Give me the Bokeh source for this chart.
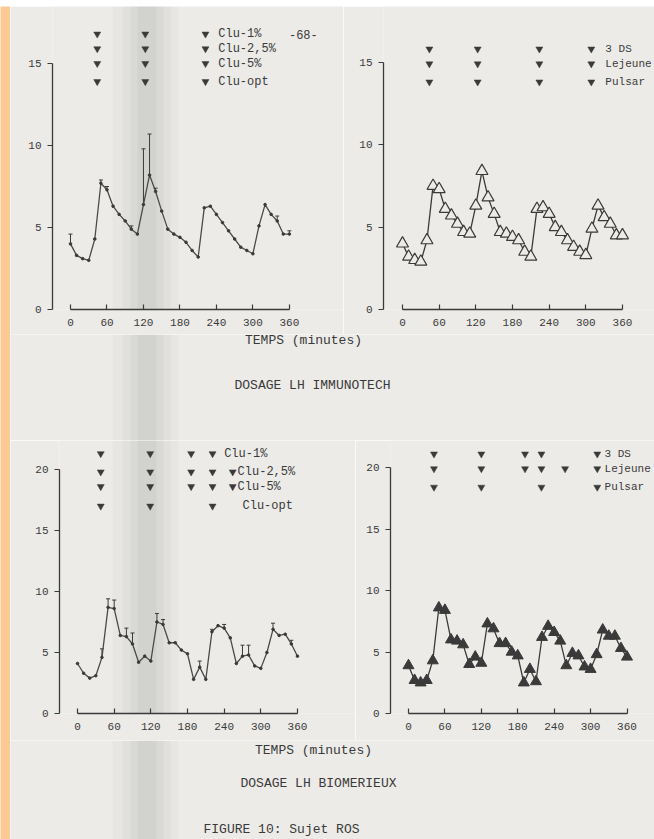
from bokeh.plotting import figure
from bokeh.layouts import column, row
from bokeh.models import Range1d, Label, Whisker, TeeHead, ColumnDataSource, FixedTicker, BoxAnnotation
from bokeh.embed import file_html
from bokeh.resources import INLINE

# ---------------- data ----------------
times = [0, 10, 20, 30, 40, 50, 60, 70, 80, 90, 100, 110, 120, 130, 140, 150, 160, 170, 180,
         190, 200, 210, 220, 230, 240, 250, 260, 270, 280, 290, 300, 310, 320, 330, 340, 350, 360]
x_ticks = [0, 60, 120, 180, 240, 300, 360]

# LH Immunotech (top panels)
immuno_clu = [4.0, 3.3, 3.1, 3.0, 4.3, 7.7, 7.3, 6.3, 5.8, 5.4, 4.9, 4.6, 6.4, 8.2, 7.2, 6.0, 4.9, 4.6, 4.4,
              4.1, 3.6, 3.2, 6.2, 6.3, 5.8, 5.3, 4.8, 4.3, 3.8, 3.6, 3.4, 5.1, 6.4, 5.8, 5.4, 4.6, 4.6]
immuno_err_t = [0, 50, 60, 100, 120, 130, 140, 340, 360]
immuno_err_hi = [4.6, 7.9, 7.5, 5.1, 9.8, 10.7, 7.4, 5.7, 4.8]
immuno_pul = [4.0, 3.2, 3.0, 2.9, 4.2, 7.5, 7.3, 6.1, 5.7, 5.2, 4.7, 4.6, 6.3, 8.4, 6.8, 5.8, 4.7, 4.6, 4.4,
              4.2, 3.5, 3.2, 6.1, 6.2, 5.8, 5.0, 4.7, 4.2, 3.8, 3.5, 3.3, 4.9, 6.3, 5.6, 5.2, 4.5, 4.5]

# LH Biomerieux (bottom panels)
biomer_clu = [4.1, 3.3, 2.9, 3.1, 4.6, 8.7, 8.6, 6.4, 6.3, 5.7, 4.2, 4.7, 4.3, 7.5, 7.3, 5.8, 5.8, 5.2, 4.9,
              2.8, 3.8, 2.8, 6.7, 7.2, 7.0, 6.2, 4.1, 4.7, 4.8, 3.9, 3.7, 5.0, 6.9, 6.4, 6.5, 5.7, 4.7]
biomer_err_t = [40, 50, 60, 80, 90, 130, 140, 200, 220, 240, 270, 280, 320, 350]
biomer_err_hi = [5.3, 9.4, 9.3, 7.0, 6.6, 8.2, 7.7, 4.3, 6.9, 7.3, 5.6, 5.6, 7.4, 6.0]
biomer_pul = [3.9, 2.7, 2.5, 2.7, 4.3, 8.6, 8.4, 6.0, 5.9, 5.6, 4.0, 4.6, 4.1, 7.3, 6.9, 5.7, 5.7, 5.0, 4.7,
              2.5, 3.6, 2.6, 6.2, 7.1, 6.6, 5.9, 3.9, 4.9, 4.7, 3.8, 3.6, 4.8, 6.8, 6.3, 6.3, 5.3, 4.6]

# pulse detections (minutes) per method
tl_methods = ["Clu-1%", "Clu-2,5%", "Clu-5%", "Clu-opt"]
tl_pulses = [[44, 123, 222], [44, 123, 222], [44, 123, 222], [44, 123, 222]]
tr_methods = ["3 DS", "Lejeune", "Pulsar"]
tr_pulses = [[44, 123, 224, 309], [44, 123, 224, 309], [44, 123, 224, 309]]
bl_methods = ["Clu-1%", "Clu-2,5%", "Clu-5%", "Clu-opt"]
bl_pulses = [[38, 119, 186, 221], [38, 119, 186, 221, 254], [38, 119, 186, 221, 254], [38, 119, 221]]
br_methods = ["3 DS", "Lejeune", "Pulsar"]
br_pulses = [[42, 120, 192, 219, 311], [42, 120, 192, 219, 258, 311], [42, 120, 219, 311]]

# ---------------- style ----------------
PAGE = "#ecebe8"
EDGE = "#fdca94"
INK = "#3a3a3a"
MONO = "Liberation Mono"


def fold_shadow(p, h, x_off):
    # soft darker band of the scanned page fold (screen pixels, relative to the frame)
    for (l, r, a) in [(112, 178, 0.02), (122, 170, 0.025), (130, 163, 0.03), (137, 156, 0.03)]:
        p.add_layout(BoxAnnotation(left=l - x_off, right=r - x_off, top=0, bottom=h,
                                   left_units="screen", right_units="screen",
                                   top_units="screen", bottom_units="screen",
                                   fill_color="black", fill_alpha=a, line_color=None,
                                   level="underlay"))


def panel(w, h, ml, mb, xs, xe, ye, ymax, ystep):
    p = figure(width=w, height=h, output_backend="svg", toolbar_location=None,
               x_range=Range1d(xs, xe), y_range=Range1d(0, ye),
               min_border_left=ml, min_border_bottom=mb, min_border_top=0, min_border_right=0,
               background_fill_color=PAGE, border_fill_color=PAGE, outline_line_color=None)
    p.grid.visible = False
    xa = p.xaxis[0]
    xa.bounds = (0, 360)
    xa.ticker = FixedTicker(ticks=x_ticks)
    xa.major_tick_in = 5
    xa.major_tick_out = 0
    xa.minor_tick_line_color = None
    ya = p.yaxis[0]
    ya.bounds = (0, ymax)
    ya.ticker = FixedTicker(ticks=list(range(0, ymax + 1, ystep)))
    ya.major_tick_in = 0
    ya.major_tick_out = 5
    ya.minor_tick_line_color = None
    for ax in (xa, ya):
        ax.axis_line_color = INK
        ax.axis_line_width = 1.3
        ax.major_tick_line_color = INK
        ax.major_tick_line_width = 1.2
        ax.major_label_text_font = MONO
        ax.major_label_text_font_size = "11px"
        ax.major_label_text_color = INK
    xa.major_label_standoff = 9
    ya.major_label_standoff = 6
    return p


def pulses(p, methods, pulse_lists, rows, label_x, size="12px", label_dx=None):
    for i, (m, pl) in enumerate(zip(methods, pulse_lists)):
        p.scatter(pl, [rows[i]] * len(pl), marker="inverted_triangle", size=7,
                  fill_color=INK, line_color=INK, line_width=0.5)
        lx = label_x if label_dx is None else label_x + label_dx[i]
        p.add_layout(Label(x=lx, y=rows[i], text=m, text_font=MONO, text_font_size=size,
                           text_color=INK, text_baseline="middle", text_align="left"))


def clu_series(p, vals, err_t, err_hi):
    p.line(times, vals, line_color="#4a4a4a", line_width=1.3)
    p.scatter(times, vals, marker="circle", size=2.6, fill_color=INK, line_color=INK)
    lo = [vals[times.index(t)] for t in err_t]
    src = ColumnDataSource(dict(base=err_t, lower=lo, upper=err_hi))
    p.add_layout(Whisker(source=src, base="base", lower="lower", upper="upper",
                         line_color=INK, line_width=1.0,
                         upper_head=TeeHead(size=4, line_color=INK, line_width=1.0),
                         lower_head=None))


def blank(w, h, color):
    p = figure(width=w, height=h, output_backend="svg", toolbar_location=None,
               x_range=Range1d(0, w), y_range=Range1d(h, 0), min_border=0,
               background_fill_color=color, border_fill_color=color, outline_line_color=None)
    p.axis.visible = False
    p.grid.visible = False
    return p


# ---------------- top-left: Immunotech, Clu ----------------
tl = panel(333, 328, 42, 25, -29.6, 449, 18.48, 15, 5)
fold_shadow(tl, 328, 52)
clu_series(tl, immuno_clu, immuno_err_t, immuno_err_hi)
pulses(tl, tl_methods, tl_pulses, [16.8, 15.9, 15.0, 13.9], 243)
tl.add_layout(Label(x=383, y=16.8, text="-68-", text_font=MONO, text_font_size="12px",
                    text_color=INK, text_baseline="middle", text_align="center"))

# ---------------- top-right: Immunotech, 3DS/Lejeune/Pulsar ----------------
tr = panel(311, 328, 40, 25, -31.1, 412.4, 18.38, 15, 5)
tr.line(times, immuno_pul, line_color=INK, line_width=1.3)
tr.scatter(times, immuno_pul, marker="triangle", size=12, fill_color=PAGE,
           line_color=INK, line_width=1.2)
pulses(tr, tr_methods, tr_pulses, [15.8, 14.9, 13.8], 332, size="11px")

# ---------------- bottom-left: Biomerieux, Clu ----------------
bl = panel(345, 300, 49, 27, -29.5, 455, 22.38, 20, 5)
fold_shadow(bl, 300, 59)
clu_series(bl, biomer_clu, biomer_err_t, biomer_err_hi)
pulses(bl, bl_methods, bl_pulses, [21.3, 19.8, 18.6, 17.0], 240, label_dx=[0, 22, 22, 30])

# ---------------- bottom-right: Biomerieux, 3DS/Lejeune/Pulsar ----------------
br = panel(299, 300, 35, 27, -29.65, 405.3, 22.2, 20, 5)
br.line(times, biomer_pul, line_color=INK, line_width=1.3)
br.scatter(times, biomer_pul, marker="triangle", size=11, fill_color=INK,
           line_color=INK, line_width=1.0)
pulses(br, br_methods, br_pulses, [21.1, 19.9, 18.4], 323, size="11px")


# ---------------- caption strips ----------------
def strip(h, texts):
    p = blank(644, h, PAGE)
    fold_shadow(p, h, 10)
    for (x, y, t) in texts:
        p.add_layout(Label(x=x, y=y, text=t, text_font=MONO, text_font_size="13px",
                           text_color=INK, text_baseline="middle", text_align="center"))
    return p


cap1 = strip(106, [(293, 6, "TEMPS (minutes)"), (302, 51, "DOSAGE LH IMMUNOTECH")])
cap2 = strip(99, [(303, 10, "TEMPS (minutes)"), (308, 43, "DOSAGE LH BIOMERIEUX"),
                  (271, 89, "FIGURE 10: Sujet ROS")])

content = column(row(tl, tr), cap1, row(bl, br), cap2)
layout = column(blank(654, 6, EDGE), row(blank(10, 833, EDGE), content))
open("out.html", "w").write(file_html(layout, INLINE))
